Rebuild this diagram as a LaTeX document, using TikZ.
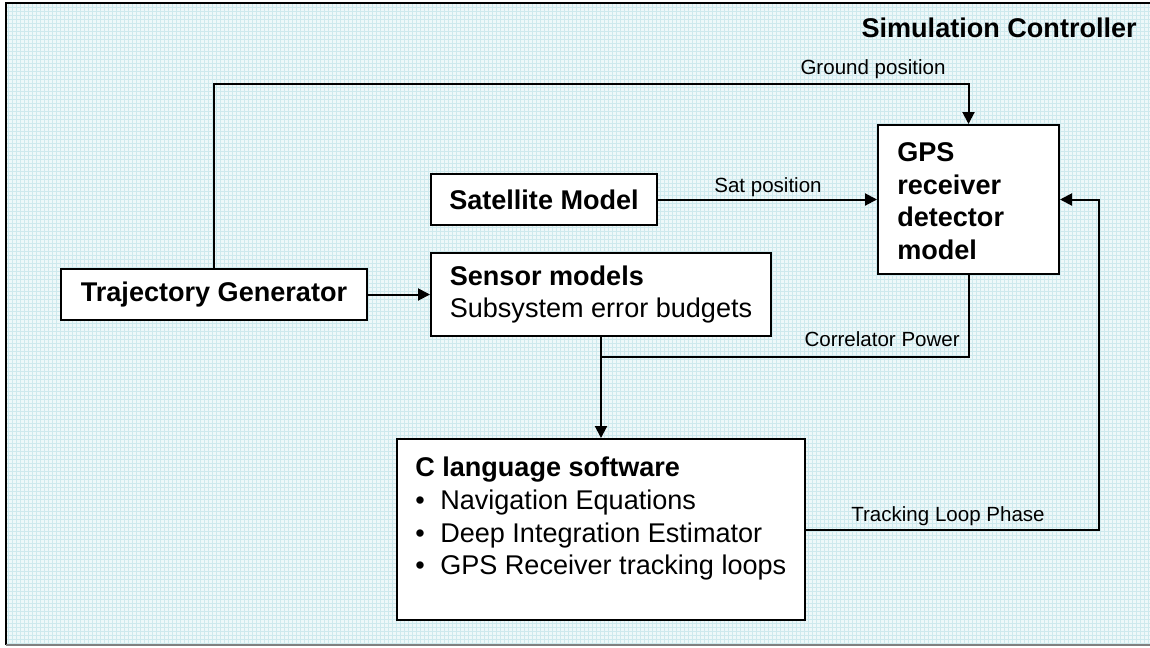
\documentclass[tikz,border=0pt]{standalone}
\usepackage{fontspec}
\setmainfont{Liberation Sans}
\usetikzlibrary{arrows.meta}
\newdimen\px \px=0.75pt
\definecolor{bgcol}{RGB}{238,248,249}
\definecolor{gridcol}{RGB}{206,233,237}
\begin{document}
\begin{tikzpicture}[x=0.75pt,y=-0.75pt,
  box/.style={draw=black,line width=1.5pt,fill=white,inner sep=0pt},
  big/.style={font=\fontsize{20.3pt}{24.5pt}\selectfont},
  small/.style={font=\fontsize{15.4pt}{18pt}\selectfont},
  conn/.style={line width=1.5pt},
  arr/.style={conn,-{Triangle[length=9pt,width=9pt]}}]
\useasboundingbox (0,0) rectangle (1150,647);
% background grid
\fill[bgcol] (6,3) rectangle (1150,645);
\foreach \i in {8,12,...,1148} \draw[gridcol,line width=0.3pt] (\i,3) -- (\i,645);
\foreach \j in {7,11,...,643} \draw[gridcol,line width=0.3pt] (6,\j) -- (1150,\j);
\draw[black,line width=1.5pt] (6,645) -- (6,3) -- (1150,3);
\draw[gray,line width=1.2pt] (6,645) -- (1150,645);
% title
\node[big,anchor=base east,inner sep=0pt] (title) at (1137,37) {\textbf{Simulation Controller}};
% boxes
\node[box,big,minimum width=306\px,minimum height=51\px] (traj) at (214,294.5) {\textbf{Trajectory Generator}};
\node[box,big,minimum width=226\px,minimum height=51\px] (sat) at (544,199.5) {\textbf{Satellite Model}};
\node[box,big,align=left,minimum width=340\px,minimum height=83\px] (sens) at (601,294.5) {\textbf{Sensor models}\\Subsystem error budgets};
\node[box,minimum width=181\px,minimum height=149\px] (gps) at (968.5,199.5) {};
\node[big,align=left,anchor=north west,inner sep=0pt] (gpstext) at (897,142.4) {\textbf{GPS}\\\textbf{receiver}\\\textbf{detector}\\\textbf{model}};
\node[box,minimum width=408\px,minimum height=181\px] (cbox) at (601,529.5) {};
\node[big,align=left,anchor=north west,inner sep=0pt] (ctext) at (415,457) {\textbf{C language software}\\\makebox[25\px][l]{\textbullet}Navigation Equations\\\makebox[25\px][l]{\textbullet}Deep Integration Estimator\\\makebox[25\px][l]{\textbullet}GPS Receiver tracking loops};
% connectors
\coordinate (gy) at (0,84);
\coordinate (cy) at (0,357);
\coordinate (tx) at (1099,0);
\draw[arr] (traj.north) |- (gy -| gps.north) -- (gps.north);
\draw[arr] (sat.east) -- (sat.east -| gps.west);
\draw[arr] (traj.east) -- (sens.west);
\draw[arr] (sens.south) -- (cbox.north);
\draw[conn] (gps.south) |- (cy -| sens.south);
\draw[arr] (cbox.east) -| (tx |- gps.east) -- (gps.east);
% labels
\node[small,anchor=base,inner sep=0pt] (lground) at (873,74) {Ground position};
\node[small,anchor=base,inner sep=0pt] (lsat) at (768,192) {Sat position};
\node[small,anchor=base east,inner sep=0pt] (lcorr) at (960,346) {Correlator Power};
\node[small,anchor=base,inner sep=0pt] (ltrack) at (948,521) {Tracking Loop Phase};
\end{tikzpicture}
\end{document}
